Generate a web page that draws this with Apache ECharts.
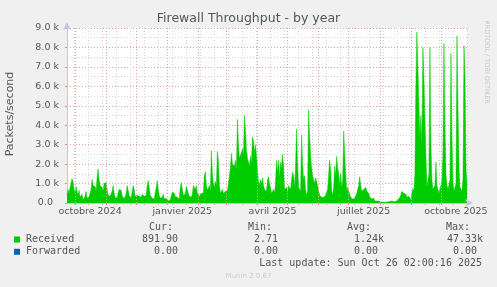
<!DOCTYPE html>
<html><head><meta charset="utf-8">
<script src="https://cdn.jsdelivr.net/npm/echarts@6/dist/echarts.min.js"></script>
<style>html,body{margin:0;padding:0;background:#F0F0F0}#c{width:497px;height:287px}</style>
</head><body><div id="c"></div>
<script>
// Daily "Received" packets/second, starting 2024-09-23 (one value per day)
const startDate = [2024, 8, 23];
const received = [
400,700,500,800,1000,1250,1100,700,500,850,
600,400,650,300,200,450,150,250,350,600,
250,150,300,400,700,1200,900,800,850,600,
1300,1750,1200,900,1000,800,600,1000,900,1050,
700,400,300,350,250,600,900,500,300,350,
250,500,700,600,650,400,250,200,300,500,
900,850,400,300,250,200,900,700,350,300,
400,450,350,400,300,450,400,350,300,400,
900,1150,800,400,300,250,350,200,300,800,
1150,700,400,250,200,300,450,200,150,250,
150,100,200,150,250,550,650,500,350,250,
300,250,200,800,1050,700,400,300,450,850,
700,500,350,400,300,450,900,850,700,900,
500,400,350,450,500,600,500,1400,1600,900,
650,700,900,600,2700,1500,1000,800,1100,900,
2650,2200,900,500,600,700,500,400,600,500,
600,1000,1350,1800,2550,2000,2100,1900,2200,1700,
4300,3000,2300,2200,2600,2800,2400,4500,3800,2700,
2300,2100,1900,2400,2000,3400,3200,2600,3000,2400,
2500,1100,900,1200,1000,1300,900,700,800,600,
1200,1350,1000,800,500,400,700,500,1000,2200,
1600,2200,1300,2100,1800,2500,1900,700,600,800,
500,900,1000,700,1200,1600,1400,800,1900,3800,
2000,800,700,600,3500,2000,1200,1400,700,400,
600,4800,3500,2400,1800,1400,1500,1000,1300,1400,
900,600,400,500,300,400,300,350,400,500,
700,800,2200,1700,600,400,800,1900,1400,2400,
1800,1500,900,1500,800,1200,3700,2500,1500,600,
800,600,500,300,250,200,300,250,200,500,
600,900,1350,900,600,500,700,600,800,600,
700,500,300,400,200,150,250,100,150,100,
80,100,60,50,40,50,60,40,70,50,
80,60,70,100,80,90,60,70,100,120,
150,200,250,400,600,550,500,400,450,300,
400,350,250,150,500,750,600,1500,6000,8800,
7000,5000,3400,4500,3000,8000,6500,4300,2500,800,
700,1500,8000,3000,1200,700,800,900,2100,900,
700,500,600,900,1200,2500,8200,4000,1500,900,
700,800,1200,7700,3500,1000,600,800,1000,8600,
5000,1800,800,700,600,1300,8100,6500,1800,900
];
const monthNames = ['janvier','février','mars','avril','mai','juin','juillet','août','septembre','octobre','novembre','décembre'];
const labelMonths = [0, 3, 6, 9];           // quarters labelled
const yTicks = [0,1000,2000,3000,4000,5000,6000,7000,8000,9000];
const legendRows = [
  {name:'Received', color:'#00CC00', cur:'891.90', min:'2.71', avg:'1.24k', max:'47.33k'},
  {name:'Forwarded', color:'#0066B3', cur:'0.00', min:'0.00', avg:'0.00', max:'0.00'}
];
const lastUpdate = 'Last update: Sun Oct 26 02:00:16 2025';

const dates = [];
for (let i = 0; i < received.length; i++) {
  const d = new Date(startDate[0], startDate[1], startDate[2] + i);
  dates.push(d.getFullYear() + '-' + (d.getMonth()+1) + '-' + d.getDate());
}
const parts = s => s.split('-').map(Number);
const isMonthStart = (i, v) => parts(v)[2] === 1;
const isBiweekly = (i) => i % 14 === 7;
const isLabel = (i, v) => { const p = parts(v); return p[2] === 16 && labelMonths.includes(p[1]-1); };

const chart = echarts.init(document.getElementById('c'), null, {renderer:'canvas'});
const mono = 'DejaVu Sans Mono';
const txt = '#555';
const graphics = [
  {type:'text', left:'center', top:12, style:{text:'Firewall Throughput - by year', font:'12.5px "DejaVu Sans"', fill:'#555'}},
  {type:'text', x:10.5, y:114, rotation:Math.PI/2, style:{text:'Packets/second', font:'11px "DejaVu Sans"', fill:'#555', textAlign:'center', textVerticalAlign:'middle'}},
  {type:'text', x:487, y:62, rotation:-Math.PI/2, style:{text:'RRDTOOL / TOBI OETIKER', font:'6.5px "DejaVu Sans"', fill:'#c8c8c8', textAlign:'center', textVerticalAlign:'middle'}},
  {type:'text', x:173, y:227.5, style:{text:'Cur:', font:'10px '+mono, fill:txt, textAlign:'right', textVerticalAlign:'middle'}},
  {type:'text', x:272, y:227.5, style:{text:'Min:', font:'10px '+mono, fill:txt, textAlign:'right', textVerticalAlign:'middle'}},
  {type:'text', x:371, y:227.5, style:{text:'Avg:', font:'10px '+mono, fill:txt, textAlign:'right', textVerticalAlign:'middle'}},
  {type:'text', x:470, y:227.5, style:{text:'Max:', font:'10px '+mono, fill:txt, textAlign:'right', textVerticalAlign:'middle'}},
  {type:'text', x:482, y:263.5, style:{text:lastUpdate, font:'10px '+mono, fill:txt, textAlign:'right', textVerticalAlign:'middle'}},
  {type:'text', x:248.5, y:276, style:{text:'Munin 2.0.67', font:'7px "DejaVu Sans"', fill:'#cccccc', textAlign:'center', textVerticalAlign:'middle'}}
];
legendRows.forEach((r, k) => {
  const y = 239.5 + k*12.3;
  graphics.push({type:'rect', shape:{x:14, y:y-3, width:6, height:6}, style:{fill:r.color}});
  graphics.push({type:'text', x:26, y:y, style:{text:r.name, font:'10px '+mono, fill:txt, textVerticalAlign:'middle'}});
  const cols = [[r.cur,178],[r.min,278],[r.avg,378],[r.max,477]];
  cols.forEach(([t, x]) => {
    const xr = /k$/.test(t) ? x + 6 : x;
    graphics.push({type:'text', x:xr, y:y, style:{text:t, font:'10px '+mono, fill:txt, textAlign:'right', textVerticalAlign:'middle'}});
  });
});

chart.setOption({
  animation:false,
  backgroundColor:'#F0F0F0',
  grid:{left:67, right:30, top:28, bottom:84, show:true, backgroundColor:'#ffffff', borderWidth:0},
  xAxis:[
    {type:'category', data:dates, boundaryGap:false,
     axisLine:{show:true, lineStyle:{color:'#c4c4ee', width:1}, symbol:['none','arrow'], symbolSize:[6,8], symbolOffset:[0,6]},
     axisTick:{show:true, interval:isMonthStart, length:2, lineStyle:{color:'#e08888'}},
     axisLabel:{interval:isLabel, margin:4, color:'#555', fontSize:9.5, fontFamily:'DejaVu Sans',
       formatter:v => { const p = parts(v); return monthNames[p[1]-1] + ' ' + p[0]; }},
     splitLine:{show:true, interval:isMonthStart, lineStyle:{color:'#e8a4a4', type:[1,2], width:1}},
     z:3},
    {type:'category', data:dates, boundaryGap:false, position:'bottom',
     axisLine:{show:false}, axisTick:{show:true, interval:isBiweekly, length:2, lineStyle:{color:'#c0c0c0'}}, axisLabel:{show:false},
     splitLine:{show:true, interval:isBiweekly, lineStyle:{color:'#d4d4d4', type:[1,2], width:1}}}
  ],
  yAxis:{type:'value', min:yTicks[0], max:yTicks[yTicks.length-1], interval:1000,
    axisLine:{show:true, lineStyle:{color:'#c4c4ee'}, symbol:['none','arrow'], symbolSize:[6,8], symbolOffset:[0,6]},
    axisTick:{show:true, length:2, lineStyle:{color:'#e08888'}},
    axisLabel:{margin:8, color:'#555', fontSize:9.5, fontFamily:'DejaVu Sans',
      formatter:v => v === 0 ? '0.0  ' : (v/1000).toFixed(1) + ' k'},
    splitLine:{show:true, lineStyle:{color:'#e8a4a4', type:[1,2], width:1}},
    minorTick:{show:false, splitNumber:2},
    minorSplitLine:{show:true, lineStyle:{color:'#d4d4d4', type:[1,2], width:1}}
  },
  series:[{type:'line', xAxisIndex:0, data:received, showSymbol:false, symbol:'none', sampling:null,
    lineStyle:{width:0.5, color:'#00CC00'}, areaStyle:{color:'#00CC00', opacity:1}, z:2}],
  graphic:graphics
});
</script></body></html>
